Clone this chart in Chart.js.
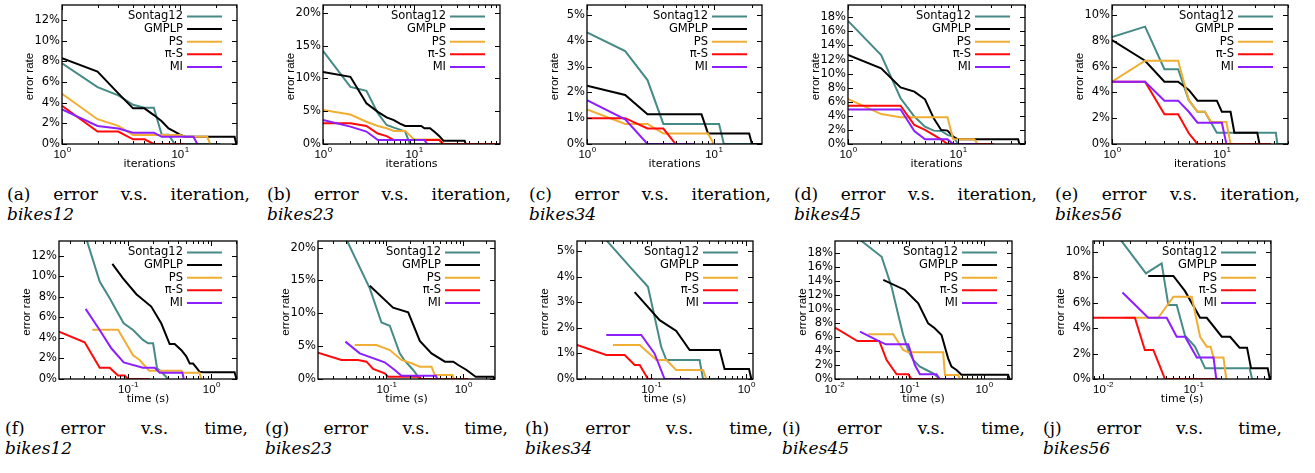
<!DOCTYPE html>
<html>
<head>
<meta charset="utf-8">
<script src="https://cdn.jsdelivr.net/npm/chart.js@4.4.1/dist/chart.umd.min.js"></script>
<style>
  body { margin: 0; background: #fff; width: 1315px; height: 473px; position: relative; overflow: hidden; }
  canvas { position: absolute; }
  .cap { position: absolute; font-family: "DejaVu Serif", serif; font-size: 17px; line-height: 20px; color: #000; }
  .cap .l1 { text-align: justify; text-align-last: justify; }
</style>
</head>
<body>
<script>
'use strict';

// series names and data sets
const SERIES = ['Sontag12', 'GMPLP', 'PS', 'π-S', 'MI'];
const COLORS = ['#468a86', '#000000', '#f0ae34', '#ff0a0a', '#8c1eff'];
const BIKES = ['bikes12', 'bikes23', 'bikes34', 'bikes45', 'bikes56'];

// error rate (%) vs. iteration
const a_Sontag12 = [[1,7.8],[2,5.5],[3,4.7],[4,3.8],[5,3.5],[6,3.5],[7,0.9],[8,0.9],[9,0],[22,0]];
const a_GMPLP = [[1,8.3],[2,7.0],[3,4.9],[4,3.45],[5,3.45],[6,2.8],[7,2.2],[8,1.5],[9,1.2],[10,0.9],[11,0.7],[29,0.7],[30,0]];
const a_PS = [[1,4.85],[2,2.4],[3,1.75],[4,0.87],[10,0.87],[11,0.7],[17,0.7],[18,0]];
const a_PiS = [[1,3.7],[2,1.2],[3,1.2],[4,0.45],[5,0.45],[6,0],[11,0]];
const a_MI = [[1,3.35],[2,1.75],[3,1.5],[4,1.1],[6,1.1],[7,0.7],[13,0.7],[14,0]];

const b_Sontag12 = [[1,14.2],[2,8.7],[3,8.1],[4,4.7],[5,2.9],[6,2.5],[7,2.2],[8,1.9],[9,0],[20,0]];
const b_GMPLP = [[1,11.0],[2,10.25],[3,6.2],[4,4.9],[5,4.05],[6,3.65],[7,3.1],[8,2.75],[12,2.75],[13,2.4],[15,2.4],[17,1.8],[19,1.2],[21,0.5],[36,0.5],[37,0]];
const b_PS = [[1,5.2],[2,4.5],[3,3.4],[4,2.75],[5,2.4],[6,2.0],[8,2.0],[10,0.7],[19,0.7],[20,0]];
const b_PiS = [[1,3.15],[2,3.15],[3,2.75],[4,1.6],[5,1.2],[6,0.6],[19,0.6],[21,0],[88,0]];
const b_MI = [[1,3.65],[2,2.65],[3,1.9],[4,0.6],[13,0.6],[14,0],[17,0]];

const c_Sontag12 = [[1,4.33],[2,3.6],[3,2.48],[4,0.78],[11,0.78],[12,0],[22,0]];
const c_GMPLP = [[1,2.26],[2,1.9],[3,1.15],[8,1.15],[9,0.41],[19,0.41],[20,0],[24,0]];
const c_PS = [[1,1.34],[2,0.78],[3,0.78],[4,0.41],[9,0.41],[10,0]];
const c_PiS = [[1,1.0],[2,1.0],[3,0.6],[4,0.6],[5,0],[6,0]];
const c_MI = [[1,1.7],[2,0.96],[3,0],[7,0]];

const d_Sontag12 = [[1,17.5],[2,12.65],[3,6.5],[4,3.9],[5,2.45],[6,1.9],[7,1.85],[8,1.3],[9,1.05],[10,0],[15,0]];
const d_GMPLP = [[1,12.65],[2,10.75],[3,8.05],[4,7.45],[5,6.35],[6,3.65],[7,2.0],[8,1.9],[9,1.05],[10,0.66],[35,0.66],[36,0],[40,0]];
const d_PS = [[1,6.4],[2,4.25],[3,3.8],[8,3.8],[9,0.66],[14,0.66],[15,0]];
const d_PiS = [[1,5.45],[3,5.45],[4,2.7],[5,2.0],[7,0.66],[8,0],[21,0]];
const d_MI = [[1,4.9],[3,4.9],[4,1.85],[5,0.66],[8,0.66],[9,0],[15,0]];

const e_Sontag12 = [[1,8.3],[2,9.1],[3,5.8],[4,5.8],[5,3.4],[6,2.5],[7,2.5],[9,0.88],[31,0.88],[32,0],[40,0]];
const e_GMPLP = [[1,8.06],[2,6.46],[3,4.83],[4,4.83],[5,4.19],[6,3.36],[9,3.36],[10,2.5],[12,2.5],[13,0.88],[21,0.88],[22,0]];
const e_PS = [[1,4.83],[2,6.46],[4,6.46],[5,3.4],[6,2.5],[7,2.5],[8,1.7],[11,1.7],[12,0]];
const e_PiS = [[1,4.83],[2,4.83],[3,2.3],[4,2.3],[5,0.83],[6,0],[28,0]];
const e_MI = [[1,4.83],[2,4.83],[3,3.36],[4,3.36],[5,2.5],[6,1.65],[10,1.65],[11,0]];

// error rate (%) vs. time (s)
const f_Sontag12 = [[0.0288,14.7],[0.0457,9.48],[0.0603,7.86],[0.0759,6.4],[0.0887,5.42],[0.115,4.77],[0.151,3.8],[0.174,3.47],[0.2,3.47],[0.223,1.04],[0.251,0.71],[0.302,0]];
const f_GMPLP = [[0.0649,11.2],[0.0871,9.8],[0.126,8.25],[0.19,7.05],[0.251,5.4],[0.316,3.4],[0.363,3.4],[0.437,2.8],[0.5,2.2],[0.55,1.5],[0.603,1.5],[0.661,1.1],[0.724,0.7],[0.8,0.65],[1.9,0.65],[2.0,0]];
const f_PS = [[0.0373,4.8],[0.0759,4.8],[0.115,2.3],[0.138,1.85],[0.179,0.8],[0.437,0.8],[0.457,0.62],[0.72,0.62],[0.76,0]];
const f_PiS = [[0.01486,4.6],[0.0302,3.57],[0.0457,1.1],[0.0603,1.1],[0.0759,0.35],[0.091,0.35],[0.1,0],[0.182,0]];
const f_MI = [[0.031,6.82],[0.0457,4.77],[0.063,2.99],[0.0887,1.62],[0.151,1.1],[0.209,1.1],[0.24,0.62],[0.449,0.62],[0.466,0]];

const g_Sontag12 = [[0.0272,22.3],[0.0607,13.8],[0.0861,8.6],[0.1105,8.1],[0.149,3.9],[0.174,2.74],[0.223,1.37],[0.272,0]];
const g_GMPLP = [[0.0607,14.2],[0.122,10.86],[0.192,10.15],[0.272,5.79],[0.386,3.9],[0.577,2.64],[0.741,2.64],[0.86,2.13],[1.105,1.37],[1.35,0.6],[1.45,0.35],[2.46,0.35],[2.59,0]];
const g_PS = [[0.0386,5.18],[0.0741,5.18],[0.1105,4.4],[0.157,2.9],[0.212,2.39],[0.272,1.88],[0.386,1.88],[0.427,0.6],[0.726,0.6],[0.756,0]];
const g_PiS = [[0.01285,4.0],[0.0259,2.9],[0.0427,2.9],[0.055,2.64],[0.067,1.52],[0.095,0.86],[0.105,0.35],[0.27,0.35],[0.28,0],[1.16,0]];
const g_MI = [[0.0292,5.69],[0.0449,3.9],[0.095,2.54],[0.128,1.37],[0.157,0.5],[0.44,0.5],[0.458,0]];

const h_Sontag12 = [[0.031,5.57],[0.0616,4.32],[0.0922,3.6],[0.127,1.26],[0.144,0.74],[0.322,0.74],[0.35,0],[0.59,0]];
const h_GMPLP = [[0.0668,3.39],[0.1224,2.3],[0.183,1.88],[0.253,1.13],[0.524,1.13],[0.59,0.39],[1.067,0.39],[1.13,0]];
const h_PS = [[0.0395,1.33],[0.0755,1.33],[0.113,0.74],[0.144,0.74],[0.183,0.35],[0.35,0.35],[0.38,0]];
const h_PiS = [[0.0165,1.33],[0.0336,0.94],[0.0524,0.94],[0.0668,0.55],[0.0755,0.55],[0.0922,0],[0.104,0]];
const h_MI = [[0.0336,1.72],[0.0783,1.72],[0.108,1.0],[0.138,0],[0.253,0]];

const i_Sontag12 = [[0.0199,20.3],[0.0428,17.5],[0.0581,13.2],[0.0713,9.2],[0.083,6.3],[0.097,4.15],[0.113,2.72],[0.139,1.77],[0.17,1.29],[0.209,0.81],[0.256,0]];
const i_GMPLP = [[0.045,14.2],[0.0875,12.75],[0.132,10.84],[0.179,7.97],[0.219,7.26],[0.27,6.3],[0.331,2.96],[0.367,1.77],[0.428,1.29],[0.498,0.6],[2.09,0.6],[2.2,0]];
const i_PS = [[0.0284,6.4],[0.0612,6.4],[0.083,4.15],[0.097,3.82],[0.284,3.82],[0.3,0.57],[0.45,0.57],[0.474,0],[0.644,0]];
const i_PiS = [[0.0102,7.35],[0.0203,5.44],[0.0398,5.44],[0.0499,2.72],[0.0678,0.67],[0.097,0.67],[0.107,0],[0.256,0]];
const i_MI = [[0.022,6.78],[0.0406,5.35],[0.0488,4.97],[0.097,4.97],[0.119,2.0],[0.139,0.67],[0.231,0.67],[0.256,0],[0.43,0]];

const j_Sontag12 = [[0.0141,11.36],[0.0298,8.3],[0.0445,9.08],[0.0528,5.81],[0.0653,5.81],[0.0808,3.4],[0.104,2.54],[0.135,0.84],[0.419,0.84],[0.446,0],[0.505,0]];
const j_GMPLP = [[0.0316,8.1],[0.06,8.1],[0.0808,6.9],[0.1186,4.81],[0.1406,4.81],[0.206,3.32],[0.255,3.32],[0.324,2.46],[0.392,2.46],[0.434,0.84],[0.664,0.84],[0.7,0]];
const j_PS = [[0.0174,4.81],[0.0408,4.81],[0.06,6.46],[0.0958,6.46],[0.1186,3.32],[0.1406,2.54],[0.155,2.54],[0.167,1.68],[0.215,1.68],[0.231,0]];
const j_PiS = [[0.00774,4.81],[0.0225,4.81],[0.029,2.28],[0.036,2.28],[0.0427,0.97],[0.0484,0],[0.174,0]];
const j_MI = [[0.0164,6.8],[0.0316,4.81],[0.0506,4.81],[0.0653,3.32],[0.0808,3.32],[0.109,1.68],[0.167,1.68],[0.179,0],[0.198,0]];

// panel layout: plot box [left, top, right, bottom] in page pixels, axis ranges
const panels = [
  {box: [62, 5, 237, 144],    xr: [1, 30.4],        ymax: 13.45, step: 2, xt: 'iterations', data: [a_Sontag12, a_GMPLP, a_PS, a_PiS, a_MI]},
  {box: [323, 5, 500, 144],   xr: [1, 88],          ymax: 21.2,  step: 5, xt: 'iterations', data: [b_Sontag12, b_GMPLP, b_PS, b_PiS, b_MI]},
  {box: [587, 5, 762, 144],   xr: [1, 24],          ymax: 5.39,  step: 1, xt: 'iterations', data: [c_Sontag12, c_GMPLP, c_PS, c_PiS, c_MI]},
  {box: [848, 5, 1025, 144],  xr: [1, 40.4],        ymax: 19.75, step: 2, xt: 'iterations', data: [d_Sontag12, d_GMPLP, d_PS, d_PiS, d_MI]},
  {box: [1112, 5, 1288, 144], xr: [1, 40],          ymax: 10.78, step: 2, xt: 'iterations', data: [e_Sontag12, e_GMPLP, e_PS, e_PiS, e_MI]},
  {box: [59, 241, 237, 379],  xr: [0.01486, 2.03],  ymax: 13.43, step: 2, xt: 'time (s)', data: [f_Sontag12, f_GMPLP, f_PS, f_PiS, f_MI]},
  {box: [318, 241, 495, 379], xr: [0.01285, 2.59],  ymax: 21.0,  step: 5, xt: 'time (s)', data: [g_Sontag12, g_GMPLP, g_PS, g_PiS, g_MI]},
  {box: [577, 241, 753, 379], xr: [0.01652, 1.175], ymax: 5.39,  step: 1, xt: 'time (s)', data: [h_Sontag12, h_GMPLP, h_PS, h_PiS, h_MI]},
  {box: [835, 241, 1012, 379],xr: [0.0102, 2.36],   ymax: 19.76, step: 2, xt: 'time (s)', data: [i_Sontag12, i_GMPLP, i_PS, i_PiS, i_MI]},
  {box: [1093, 241, 1271, 379],xr: [0.00774, 0.722],ymax: 10.84, step: 2, xt: 'time (s)', data: [j_Sontag12, j_GMPLP, j_PS, j_PiS, j_MI]}
];

// caption boxes [left, top, width]
const capBoxes = [
  [7, 184, 243], [267, 184, 244], [529, 184, 242], [794, 184, 243], [1055, 184, 245],
  [5, 418, 243], [265, 418, 243], [525, 418, 248], [782, 418, 243], [1043, 418, 239]
];

const PAD_L = 62, PAD_T = 8, PAD_R = 8, PAD_B = 32;
const SANS = 'DejaVu Sans';

// frame, inward ticks, superscript x labels, titles and key, gnuplot style
const frame = {
  id: 'frame',
  afterDatasetsDraw(chart, args, opt) {
    const ctx = chart.ctx, a = chart.chartArea, x = chart.scales.x, y = chart.scales.y;
    ctx.save();
    ctx.strokeStyle = '#000';
    ctx.lineWidth = 1;
    ctx.beginPath();
    y.ticks.forEach(t => {
      const py = Math.round(y.getPixelForValue(t.value)) + 0.5;
      ctx.moveTo(a.left, py); ctx.lineTo(a.left + 5, py);
      ctx.moveTo(a.right, py); ctx.lineTo(a.right - 5, py);
    });
    const e0 = Math.floor(Math.log10(x.min)), e1 = Math.ceil(Math.log10(x.max));
    for (let e = e0; e <= e1; e++) {
      for (let m = 1; m < 10; m++) {
        const v = m * Math.pow(10, e);
        if (v < x.min || v > x.max) continue;
        const px = Math.round(x.getPixelForValue(v)) + 0.5;
        const len = m === 1 ? 5 : 3;
        ctx.moveTo(px, a.bottom); ctx.lineTo(px, a.bottom - len);
        ctx.moveTo(px, a.top); ctx.lineTo(px, a.top + len);
      }
    }
    ctx.stroke();
    ctx.lineWidth = 1.3;
    ctx.strokeRect(a.left, a.top, a.right - a.left, a.bottom - a.top);

    // decade labels 10^k
    ctx.fillStyle = '#000';
    ctx.textAlign = 'left';
    ctx.textBaseline = 'alphabetic';
    for (let e = e0; e <= e1; e++) {
      const v = Math.pow(10, e);
      if (v < x.min * 0.98 || v > x.max * 1.02) continue;
      const px = x.getPixelForValue(v);
      const ex = String(e);
      ctx.font = '11.5px "Liberation Sans Narrow", "Liberation Sans"';
      const w1 = ctx.measureText('10').width;
      ctx.font = '8px "Liberation Sans"';
      const w2 = ctx.measureText(ex).width;
      const x0 = px - (w1 + w2) / 2;
      ctx.font = '11.5px "Liberation Sans Narrow", "Liberation Sans"';
      ctx.fillText('10', x0, a.bottom + 14);
      ctx.font = '8px "Liberation Sans"';
      ctx.fillText(ex, x0 + w1 + 0.5, a.bottom + 8);
    }

    // axis titles
    ctx.textAlign = 'center';
    ctx.font = '11px "' + SANS + '"';
    ctx.fillText(opt.xTitle, (a.left + a.right) / 2, a.bottom + 22.5);
    ctx.save();
    ctx.translate(a.left - 32, (a.top + a.bottom) / 2 + 2);
    ctx.rotate(-Math.PI / 2);
    ctx.textBaseline = 'middle';
    ctx.font = '11.5px "Liberation Sans"';
    ctx.fillText('error rate', 0, 0);
    ctx.restore();

    // key
    const lx2 = a.right - 15, lx1 = lx2 - 35;
    ctx.font = '11.5px "' + SANS + '"';
    ctx.textAlign = 'right';
    ctx.textBaseline = 'middle';
    chart.data.datasets.forEach((ds, i) => {
      const yy = a.top + 11.5 + i * 12.6;
      ctx.fillStyle = '#000';
      ctx.fillText(ds.label, lx1 - 4, yy);
      ctx.strokeStyle = ds.borderColor;
      ctx.lineWidth = 2;
      ctx.beginPath();
      ctx.moveTo(lx1, yy); ctx.lineTo(lx2, yy);
      ctx.stroke();
    });
    ctx.restore();
  }
};

panels.forEach((p, k) => {
  const [l, t, r, b] = p.box;
  const cv = document.createElement('canvas');
  cv.width = (r - l) + PAD_L + PAD_R;
  cv.height = (b - t) + PAD_T + PAD_B;
  cv.style.left = (l - PAD_L) + 'px';
  cv.style.top = (t - PAD_T) + 'px';
  document.body.appendChild(cv);

  new Chart(cv.getContext('2d'), {
    type: 'line',
    data: {
      datasets: p.data.map((s, i) => ({
        label: SERIES[i],
        data: s.map(([x, y]) => ({x, y})),
        borderColor: COLORS[i],
        borderWidth: 2,
        pointRadius: 0,
        tension: 0,
        fill: false,
        order: SERIES.length - i
      }))
    },
    options: {
      responsive: false,
      animation: false,
      devicePixelRatio: 1,
      events: [],
      layout: {padding: {left: 0, top: PAD_T, right: PAD_R, bottom: 0}},
      plugins: {legend: {display: false}, tooltip: {enabled: false}, frame: {xTitle: p.xt}},
      scales: {
        x: {
          type: 'logarithmic', min: p.xr[0], max: p.xr[1], bounds: 'data',
          ticks: {display: false},
          grid: {display: false, drawTicks: false},
          border: {display: false},
          afterFit(s) { s.height = PAD_B; s.paddingLeft = 0; s.paddingRight = 0; }
        },
        y: {
          type: 'linear', min: 0, max: p.ymax, bounds: 'data',
          ticks: {
            stepSize: p.step, includeBounds: false, autoSkip: false, padding: 2,
            color: '#000', font: {family: SANS, size: 11.5},
            callback: v => v + '%'
          },
          grid: {display: false, drawTicks: false},
          border: {display: false},
          // keep only whole steps (0%, 5%, ...)
          afterBuildTicks(s) {
            s.ticks = s.ticks.filter(t => Math.abs(t.value / p.step - Math.round(t.value / p.step)) < 1e-6);
          },
          afterFit(s) { s.width = PAD_L; s.paddingTop = 0; s.paddingBottom = 0; }
        }
      }
    },
    plugins: [frame]
  });

  // caption
  const [cx, cy, cw] = capBoxes[k];
  const tag = '(' + String.fromCharCode(97 + k) + ')';
  const kind = k < 5 ? 'iteration' : 'time';
  const cap = document.createElement('div');
  cap.className = 'cap';
  cap.style.left = cx + 'px';
  cap.style.top = cy + 'px';
  cap.style.width = cw + 'px';
  const l1 = document.createElement('div');
  l1.className = 'l1';
  l1.textContent = tag + ' error v.s. ' + kind + ',';
  const l2 = document.createElement('div');
  const it = document.createElement('i');
  it.textContent = BIKES[k % 5];
  l2.appendChild(it);
  cap.appendChild(l1);
  cap.appendChild(l2);
  document.body.appendChild(cap);
});
</script>
</body>
</html>
